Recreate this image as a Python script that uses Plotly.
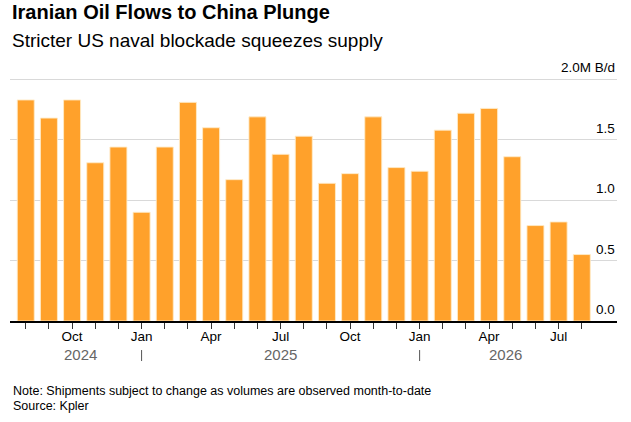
import plotly.graph_objects as go

# Data (Aug 2024 - Aug 2026), million barrels per day
months = ["Aug 2024", "Sep 2024", "Oct 2024", "Nov 2024", "Dec 2024",
          "Jan 2025", "Feb 2025", "Mar 2025", "Apr 2025", "May 2025", "Jun 2025",
          "Jul 2025", "Aug 2025", "Sep 2025", "Oct 2025", "Nov 2025", "Dec 2025",
          "Jan 2026", "Feb 2026", "Mar 2026", "Apr 2026", "May 2026", "Jun 2026",
          "Jul 2026", "Aug 2026"]
flows = [1.83, 1.68, 1.83, 1.31, 1.44, 0.90, 1.44, 1.81, 1.60, 1.17, 1.69, 1.38,
         1.53, 1.14, 1.22, 1.69, 1.27, 1.24, 1.58, 1.72, 1.76, 1.36, 0.79, 0.82, 0.55]
tick_text = ["", "", "Oct", "", "", "Jan", "", "", "Apr", "", "", "Jul",
             "", "", "Oct", "", "", "Jan", "", "", "Apr", "", "", "Jul", ""]
year_labels = ["2024", "2025", "2026"]
year_pos = [2.35, 10.98, 20.69]
year_breaks = [5, 17]
y_ticks = [0.0, 0.5, 1.0, 1.5, 2.0]
y_tick_text = ["0.0", "0.5", "1.0", "1.5", "2.0M B/d"]

FONT = "Liberation Sans, Arial, sans-serif"
x = list(range(len(months)))

fig = go.Figure()
fig.add_trace(go.Bar(
    x=x, y=flows, customdata=months,
    marker=dict(color="#FFA12B", line=dict(color="rgba(255,235,200,0.9)", width=1)),
    hovertemplate="%{customdata}: %{y:.2f}M B/d<extra></extra>",
))

annotations = []
# Title / subtitle
annotations.append(dict(text="<b>Iranian Oil Flows to China Plunge</b>", xref="paper", yref="paper",
                        x=0, y=1, xanchor="left", yanchor="middle", yshift=65, xshift=0,
                        showarrow=False, font=dict(size=20, color="#000000", family=FONT)))
annotations.append(dict(text="Stricter US naval blockade squeezes supply", xref="paper", yref="paper",
                        x=0, y=1, xanchor="left", yanchor="middle", yshift=37,
                        showarrow=False, font=dict(size=19, color="#000000", family=FONT)))
# y-axis labels above gridlines, right side
for v, t in zip(y_ticks, y_tick_text):
    annotations.append(dict(text=t, xref="paper", yref="y", x=1, y=v,
                            xanchor="right", yanchor="bottom", yshift=2,
                            showarrow=False, font=dict(size=13.5, color="#000000", family=FONT)))
# Year labels
for yl, xp in zip(year_labels, year_pos):
    annotations.append(dict(text=yl, xref="x", yref="paper", x=xp, y=0,
                            xanchor="center", yanchor="middle", yshift=-33,
                            showarrow=False, font=dict(size=15, color="#666666", family=FONT)))
# Footer
annotations.append(dict(text="Note: Shipments subject to change as volumes are observed month-to-date",
                        xref="paper", yref="paper", x=0, y=0, xanchor="left", yanchor="middle",
                        yshift=-70, xshift=1, showarrow=False,
                        font=dict(size=12.5, color="#000000", family=FONT)))
annotations.append(dict(text="Source: Kpler",
                        xref="paper", yref="paper", x=0, y=0, xanchor="left", yanchor="middle",
                        yshift=-85, xshift=1, showarrow=False,
                        font=dict(size=12.5, color="#000000", family=FONT)))

shapes = []
for b in year_breaks:
    shapes.append(dict(type="line", xref="x", yref="paper", x0=b, x1=b,
                       y0=-0.119, y1=-0.164, line=dict(color="#555555", width=1)))

fig.update_layout(
    width=631, height=422,
    margin=dict(l=10, r=14, t=77, b=101),
    paper_bgcolor="white", plot_bgcolor="white",
    font=dict(family=FONT, color="#000000"),
    showlegend=False,
    bargap=0.266,
    annotations=annotations,
    shapes=shapes,
    xaxis=dict(
        range=[-0.68, 25.52], tickmode="array", tickvals=x, ticktext=tick_text,
        showline=True, linecolor="#000000", linewidth=1.5,
        ticks="outside", ticklen=6, tickwidth=1, tickcolor="#333333",
        ticklabelstandoff=-4,
        showgrid=False, zeroline=False, fixedrange=True,
        tickfont=dict(size=13.5, color="#000000", family=FONT),
    ),
    yaxis=dict(
        range=[0, 2.02], tickvals=[0.5, 1.0, 1.5, 2.0], showticklabels=False,
        showgrid=True, gridcolor="#d9d9d9", gridwidth=1, zeroline=False,
        fixedrange=True,
    ),
)

# Remove the browser's default 8px body margin so the figure fills the window.
fig.write_html("out.html", config={"displayModeBar": False},
               post_script="document.body.style.margin='0';")
